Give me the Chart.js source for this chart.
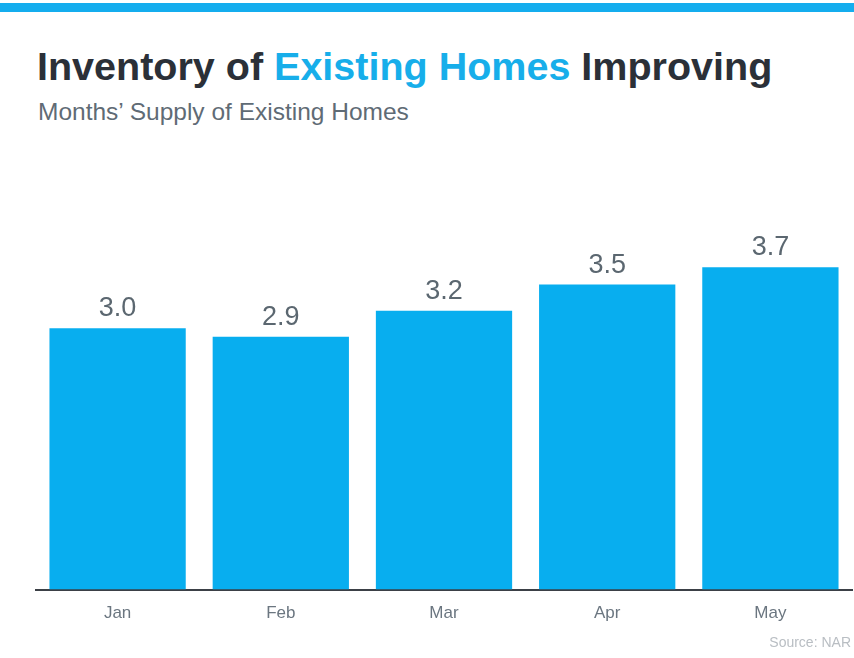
<!DOCTYPE html>
<html>
<head>
<meta charset="utf-8">
<script src="https://cdn.jsdelivr.net/npm/chart.js@4.4.0/dist/chart.umd.min.js"></script>
<style>
  html, body { margin: 0; padding: 0; background: #fff; }
  body { width: 854px; height: 658px; position: relative; overflow: hidden; font-family: "Liberation Sans", Arial, sans-serif; }
  .topbar { position: absolute; left: 0; top: 3px; width: 854px; height: 9px; background: #14adee; }
  .title { position: absolute; left: 37px; top: 42px; font-size: 39.5px; font-weight: bold; color: #2b3038; white-space: nowrap; line-height: 48px; }
  .title .hl { color: #17aeea; }
  .subtitle { position: absolute; left: 38px; top: 98px; font-size: 24.5px; color: #5f6b75; white-space: nowrap; line-height: 28px; }
  .source { position: absolute; right: 3px; top: 634px; font-size: 14px; color: #b9bec3; white-space: nowrap; }
  #chart { position: absolute; left: 0; top: 0; }
</style>
</head>
<body>
<div class="topbar"></div>
<div class="title">Inventory of <span class="hl">Existing Homes</span> Improving</div>
<div class="subtitle">Months’ Supply of Existing Homes</div>
<canvas id="chart" width="854" height="658"></canvas>
<div class="source">Source: NAR</div>
<script>
// Chart data
const months = ['Jan', 'Feb', 'Mar', 'Apr', 'May'];
const supplyValues = [3.0, 2.9, 3.2, 3.5, 3.7];

// Draw the value above each bar
const valueLabels = {
  id: 'valueLabels',
  afterDatasetsDraw(chart) {
    const ctx = chart.ctx;
    const meta = chart.getDatasetMeta(0);
    ctx.save();
    ctx.font = '27px "Liberation Sans", Arial, sans-serif';
    ctx.fillStyle = '#5b6770';
    ctx.textAlign = 'center';
    ctx.textBaseline = 'alphabetic';
    meta.data.forEach((bar, i) => {
      ctx.fillText(supplyValues[i].toFixed(1), bar.x, bar.y - 12);
    });
    ctx.restore();
  }
};

const ctx = document.getElementById('chart').getContext('2d');
new Chart(ctx, {
  type: 'bar',
  data: {
    labels: months,
    datasets: [{
      data: supplyValues,
      backgroundColor: '#08aeef',
      borderWidth: 0,
      categoryPercentage: 1,
      barPercentage: 0.835
    }]
  },
  options: {
    responsive: false,
    animation: false,
    layout: {
      padding: { left: 36, right: 2, top: 241, bottom: 20 }
    },
    plugins: {
      legend: { display: false },
      tooltip: { enabled: false }
    },
    scales: {
      x: {
        grid: { display: false, drawTicks: false },
        border: { display: true, color: '#3b4046', width: 2 },
        ticks: {
          color: '#6b7680',
          padding: 14,
          font: { family: '"Liberation Sans", Arial, sans-serif', size: 17 }
        }
      },
      y: {
        display: false,
        min: 0,
        max: 4
      }
    }
  },
  plugins: [valueLabels]
});
</script>
</body>
</html>
